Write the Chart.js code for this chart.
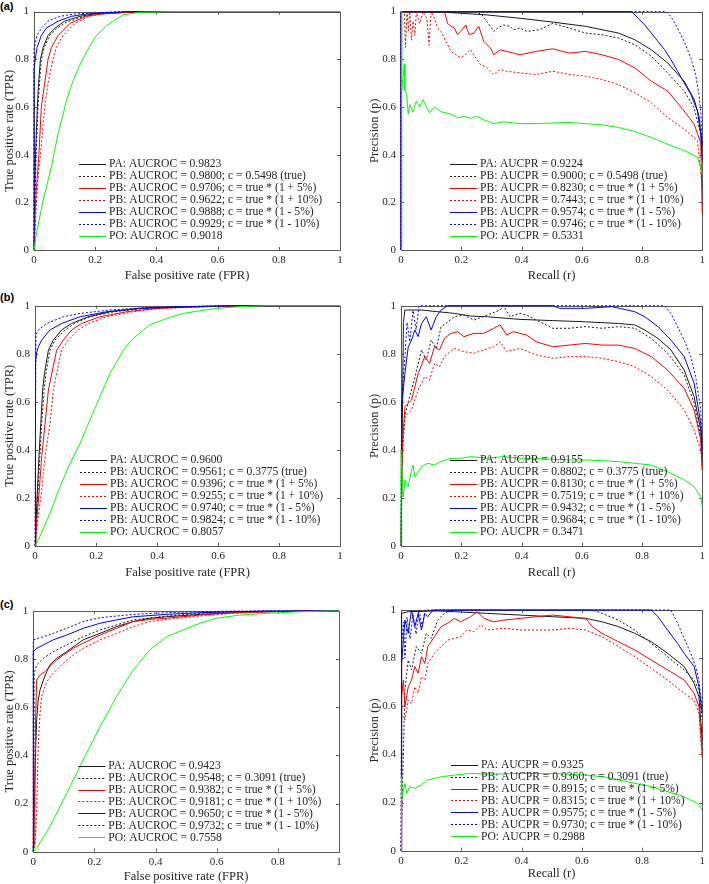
<!DOCTYPE html>
<html><head><meta charset="utf-8">
<script src="https://cdn.jsdelivr.net/npm/chart.js@4.4.0/dist/chart.umd.min.js"></script>
<style>
html,body{margin:0;padding:0;width:709px;height:884px;overflow:hidden;background:#fff}
canvas{position:absolute}
.lbl{position:absolute;left:0;font-family:"Liberation Sans",Arial,sans-serif;font-weight:bold;font-size:11px;line-height:12px;color:#000}
</style></head><body>
<div class="lbl" style="top:0px">(a)</div>
<div class="lbl" style="top:291px">(b)</div>
<div class="lbl" style="top:598px">(c)</div>
<canvas id="aL"></canvas><canvas id="aR"></canvas>
<canvas id="bL"></canvas><canvas id="bR"></canvas>
<canvas id="cL"></canvas><canvas id="cR"></canvas>
<script>
// ---------- tick labels ----------
const TICK_VALUES = [0, 0.2, 0.4, 0.6, 0.8, 1];
const TICK_LABELS = ['0', '0.2', '0.4', '0.6', '0.8', '1'];

// ---------- axis titles ----------
const ROC_X_TITLE = 'False positive rate (FPR)';
const ROC_Y_TITLE = 'True positive rate (TPR)';
const PR_X_TITLE = 'Recall (r)';
const PR_Y_TITLE = 'Precision (p)';

// ---------- legend labels ----------
const A_ROC_LABELS = ['PA: AUCROC = 0.9823','PB: AUCROC = 0.9800; c = 0.5498 (true)','PB: AUCROC = 0.9706; c = true * (1 + 5%)','PB: AUCROC = 0.9622; c = true * (1 + 10%)','PB: AUCROC = 0.9888; c = true * (1 - 5%)','PB: AUCROC = 0.9929; c = true * (1 - 10%)','PO: AUCROC = 0.9018'];
const A_PR_LABELS = ['PA: AUCPR = 0.9224','PB: AUCPR = 0.9000; c = 0.5498 (true)','PB: AUCPR = 0.8230; c = true * (1 + 5%)','PB: AUCPR = 0.7443; c = true * (1 + 10%)','PB: AUCPR = 0.9574; c = true * (1 - 5%)','PB: AUCPR = 0.9746; c = true * (1 - 10%)','PO: AUCPR = 0.5331'];
const B_ROC_LABELS = ['PA: AUCROC = 0.9600','PB: AUCROC = 0.9561; c = 0.3775 (true)','PB: AUCROC = 0.9396; c = true * (1 + 5%)','PB: AUCROC = 0.9255; c = true * (1 + 10%)','PB: AUCROC = 0.9740; c = true * (1 - 5%)','PB: AUCROC = 0.9824; c = true * (1 - 10%)','PO: AUCROC = 0.8057'];
const B_PR_LABELS = ['PA: AUCPR = 0.9155','PB: AUCPR = 0.8802; c = 0.3775 (true)','PB: AUCPR = 0.8130; c = true * (1 + 5%)','PB: AUCPR = 0.7519; c = true * (1 + 10%)','PB: AUCPR = 0.9432; c = true * (1 - 5%)','PB: AUCPR = 0.9684; c = true * (1 - 10%)','PO: AUCPR = 0.3471'];
const C_ROC_LABELS = ['PA: AUCROC = 0.9423','PB: AUCROC = 0.9548; c = 0.3091 (true)','PB: AUCROC = 0.9382; c = true * (1 + 5%)','PB: AUCROC = 0.9181; c = true * (1 + 10%)','PB: AUCROC = 0.9650; c = true * (1 - 5%)','PB: AUCROC = 0.9732; c = true * (1 - 10%)','PO: AUCROC = 0.7558'];
const C_PR_LABELS = ['PA: AUCPR = 0.9325','PB: AUCPR = 0.9360; c = 0.3091 (true)','PB: AUCPR = 0.8915; c = true * (1 + 5%)','PB: AUCPR = 0.8315; c = true * (1 + 10%)','PB: AUCPR = 0.9575; c = true * (1 - 5%)','PB: AUCPR = 0.9730; c = true * (1 - 10%)','PO: AUCPR = 0.2988'];

// ---------- (a) ROC ----------
const A_ROC_PA  = [[0,0],[0.002,0.2],[0.005,0.4],[0.011,0.6],[0.015,0.7],[0.021,0.8],[0.03,0.85],[0.046,0.9],[0.068,0.93],[0.1,0.96],[0.15,0.98],[0.193,0.99],[0.35,1],[1,1]];
const A_ROC_PBT = [[0,0],[0.003,0.2],[0.007,0.4],[0.013,0.6],[0.018,0.7],[0.024,0.8],[0.034,0.85],[0.051,0.9],[0.075,0.93],[0.105,0.955],[0.16,0.978],[0.21,0.99],[0.36,1],[1,1]];
const A_ROC_R5  = [[0,0],[0.005,0.2],[0.016,0.4],[0.024,0.6],[0.035,0.7],[0.046,0.8],[0.057,0.85],[0.079,0.9],[0.117,0.95],[0.17,0.98],[0.215,0.99],[0.33,1],[1,1]];
const A_ROC_R10 = [[0,0],[0.008,0.2],[0.013,0.3],[0.021,0.4],[0.035,0.6],[0.046,0.7],[0.062,0.8],[0.073,0.85],[0.095,0.9],[0.133,0.95],[0.18,0.98],[0.225,0.99],[0.35,1],[1,1]];
const A_ROC_B5  = [[0,0],[0,0.757],[0.004,0.8],[0.01,0.85],[0.024,0.9],[0.04,0.93],[0.079,0.96],[0.122,0.98],[0.171,0.99],[0.3,1],[1,1]];
const A_ROC_B10 = [[0,0],[0,0.84],[0.003,0.86],[0.01,0.9],[0.024,0.93],[0.046,0.96],[0.084,0.98],[0.133,0.99],[0.28,1],[1,1]];
const A_ROC_PO  = [[0,0],[0.008,0.07],[0.03,0.21],[0.04,0.26],[0.057,0.35],[0.079,0.49],[0.106,0.625],[0.122,0.69],[0.144,0.76],[0.171,0.83],[0.204,0.9],[0.237,0.94],[0.29,0.986],[0.345,0.997],[0.45,1],[1,1]];

// ---------- (a) PR ----------
const A_PR_PA  = [[0,0],[0,1],[0.15,0.997],[0.286,0.986],[0.395,0.972],[0.504,0.956],[0.613,0.938],[0.722,0.91],[0.776,0.882],[0.831,0.84],[0.885,0.785],[0.94,0.708],[0.973,0.632],[0.989,0.563],[1,0.444]];
const A_PR_PBT = [[0,0],[0,1],[0.25,1],[0.269,0.986],[0.29,0.95],[0.308,0.917],[0.32,0.93],[0.34,0.944],[0.362,0.938],[0.373,0.924],[0.395,0.931],[0.417,0.917],[0.46,0.924],[0.504,0.951],[0.558,0.931],[0.613,0.91],[0.667,0.903],[0.722,0.889],[0.776,0.861],[0.831,0.813],[0.885,0.743],[0.94,0.667],[0.973,0.597],[0.995,0.486],[1,0.431]];
const A_PR_R5  = [[0,0],[0,1],[0.144,1],[0.155,0.95],[0.16,0.944],[0.177,0.931],[0.188,0.903],[0.198,0.917],[0.215,0.944],[0.226,0.903],[0.242,0.91],[0.258,0.938],[0.275,0.875],[0.297,0.847],[0.308,0.819],[0.329,0.84],[0.351,0.833],[0.373,0.826],[0.395,0.819],[0.449,0.833],[0.504,0.844],[0.558,0.826],[0.613,0.833],[0.667,0.819],[0.722,0.799],[0.776,0.764],[0.831,0.708],[0.885,0.667],[0.94,0.583],[0.973,0.528],[0.995,0.45],[1,0.15]];
const A_PR_R10 = [[0,0],[0,1],[0.011,1],[0.015,0.85],[0.02,1],[0.025,0.92],[0.029,1],[0.035,0.88],[0.04,0.96],[0.046,0.9],[0.051,1],[0.062,0.95],[0.073,1],[0.086,0.97],[0.093,0.86],[0.1,1],[0.111,0.97],[0.122,0.93],[0.133,0.917],[0.149,0.875],[0.166,0.833],[0.182,0.819],[0.198,0.806],[0.215,0.82],[0.231,0.84],[0.248,0.806],[0.264,0.778],[0.286,0.764],[0.308,0.736],[0.329,0.757],[0.351,0.75],[0.395,0.743],[0.449,0.736],[0.504,0.75],[0.558,0.736],[0.613,0.729],[0.667,0.715],[0.722,0.694],[0.776,0.66],[0.831,0.618],[0.885,0.556],[0.94,0.507],[0.984,0.458],[1,0.264]];
const A_PR_B5  = [[0,0],[0,1],[0.766,1],[0.787,0.972],[0.809,0.944],[0.831,0.91],[0.853,0.875],[0.875,0.84],[0.896,0.799],[0.918,0.75],[0.94,0.701],[0.962,0.653],[0.984,0.583],[0.995,0.486],[1,0.375]];
const A_PR_B10 = [[0,0],[0,1],[0.88,1],[0.896,0.979],[0.918,0.931],[0.94,0.875],[0.962,0.806],[0.978,0.736],[0.989,0.653],[0.995,0.583],[1,0.444]];
const A_PR_PO  = [[0,0],[0.002,1],[0.003,0.67],[0.011,0.78],[0.013,0.67],[0.019,0.65],[0.024,0.57],[0.029,0.61],[0.04,0.58],[0.051,0.625],[0.062,0.6],[0.073,0.63],[0.084,0.6],[0.095,0.575],[0.111,0.6],[0.133,0.58],[0.166,0.57],[0.188,0.555],[0.209,0.56],[0.231,0.553],[0.253,0.56],[0.275,0.546],[0.308,0.53],[0.34,0.538],[0.395,0.53],[0.449,0.53],[0.504,0.533],[0.558,0.535],[0.613,0.53],[0.667,0.525],[0.722,0.514],[0.776,0.497],[0.831,0.472],[0.885,0.444],[0.94,0.417],[0.984,0.39],[1,0.32]];

// ---------- (b) ROC ----------
const B_ROC_PA  = [[0,0],[0.003,0.094],[0.008,0.233],[0.013,0.372],[0.019,0.51],[0.025,0.649],[0.031,0.718],[0.044,0.815],[0.06,0.857],[0.087,0.899],[0.12,0.926],[0.175,0.954],[0.246,0.975],[0.344,0.989],[0.486,0.996],[0.7,1],[1,1]];
const B_ROC_PBT = [[0,0],[0.004,0.094],[0.01,0.233],[0.016,0.372],[0.022,0.51],[0.03,0.649],[0.036,0.718],[0.049,0.815],[0.066,0.857],[0.098,0.899],[0.13,0.926],[0.18,0.954],[0.26,0.975],[0.36,0.989],[0.5,0.996],[0.7,1],[1,1]];
const B_ROC_R5  = [[0,0],[0.005,0.094],[0.014,0.233],[0.022,0.372],[0.033,0.51],[0.044,0.649],[0.055,0.718],[0.071,0.815],[0.093,0.857],[0.12,0.899],[0.153,0.926],[0.213,0.954],[0.301,0.975],[0.399,0.989],[0.55,0.996],[0.7,1],[1,1]];
const B_ROC_R10 = [[0,0],[0.008,0.094],[0.022,0.233],[0.033,0.372],[0.049,0.51],[0.06,0.649],[0.071,0.718],[0.087,0.815],[0.109,0.857],[0.142,0.899],[0.175,0.926],[0.235,0.954],[0.322,0.975],[0.421,0.989],[0.57,0.996],[0.72,1],[1,1]];
const B_ROC_B5  = [[0,0],[0.001,0.094],[0.001,0.51],[0.003,0.76],[0.005,0.802],[0.011,0.829],[0.022,0.857],[0.049,0.899],[0.087,0.926],[0.148,0.954],[0.235,0.975],[0.344,0.989],[0.65,1],[1,1]];
const B_ROC_B10 = [[0,0],[0.001,0.3],[0.002,0.6],[0.003,0.878],[0.011,0.899],[0.038,0.926],[0.093,0.954],[0.148,0.968],[0.246,0.982],[0.377,0.993],[0.6,1],[1,1]];
const B_ROC_PO  = [[0,0],[0.016,0.039],[0.049,0.136],[0.082,0.247],[0.115,0.344],[0.148,0.427],[0.18,0.524],[0.213,0.621],[0.246,0.718],[0.29,0.815],[0.322,0.864],[0.377,0.92],[0.432,0.947],[0.486,0.968],[0.541,0.979],[0.596,0.989],[0.672,0.996],[0.76,1],[1,1]];

// ---------- (b) PR ----------
const B_PR_PA  = [[0,0],[0.008,0.93],[0.013,0.982],[0.068,0.982],[0.122,0.975],[0.177,0.968],[0.231,0.957],[0.286,0.954],[0.395,0.943],[0.504,0.938],[0.613,0.933],[0.722,0.926],[0.776,0.92],[0.809,0.899],[0.853,0.864],[0.896,0.816],[0.94,0.732],[0.973,0.621],[0.995,0.483],[1,0.372]];
const B_PR_PBT = [[0,0],[0.002,0.37],[0.013,0.54],[0.024,0.6],[0.046,0.7],[0.068,0.816],[0.084,0.774],[0.1,0.857],[0.117,0.822],[0.133,0.913],[0.149,0.926],[0.177,0.954],[0.209,0.961],[0.242,0.94],[0.286,0.961],[0.329,0.982],[0.34,1],[0.362,0.954],[0.395,0.968],[0.417,0.961],[0.449,0.94],[0.504,0.906],[0.558,0.906],[0.613,0.913],[0.667,0.906],[0.722,0.913],[0.776,0.906],[0.831,0.864],[0.885,0.802],[0.94,0.712],[0.973,0.594],[0.995,0.455],[1,0.344]];
const B_PR_R5  = [[0,0],[0.004,0.4],[0.013,0.58],[0.035,0.607],[0.057,0.718],[0.079,0.788],[0.095,0.76],[0.111,0.829],[0.128,0.816],[0.144,0.864],[0.166,0.885],[0.188,0.892],[0.209,0.871],[0.242,0.885],[0.275,0.885],[0.308,0.906],[0.329,0.92],[0.351,0.878],[0.373,0.892],[0.395,0.885],[0.417,0.878],[0.449,0.85],[0.504,0.829],[0.558,0.836],[0.613,0.843],[0.667,0.836],[0.722,0.836],[0.776,0.822],[0.831,0.788],[0.885,0.732],[0.94,0.656],[0.973,0.566],[0.995,0.441],[1,0.316]];
const B_PR_R10 = [[0,0],[0.004,0.372],[0.013,0.538],[0.035,0.566],[0.057,0.649],[0.079,0.705],[0.095,0.691],[0.111,0.76],[0.128,0.746],[0.144,0.788],[0.177,0.822],[0.209,0.809],[0.242,0.802],[0.275,0.816],[0.308,0.829],[0.329,0.85],[0.351,0.809],[0.395,0.822],[0.449,0.795],[0.504,0.781],[0.558,0.788],[0.613,0.788],[0.667,0.781],[0.722,0.767],[0.776,0.746],[0.831,0.705],[0.885,0.649],[0.94,0.566],[0.973,0.483],[0.995,0.399],[1,0.316]];
const B_PR_B5  = [[0,0],[0.002,0.58],[0.013,0.718],[0.024,0.829],[0.035,0.857],[0.046,0.899],[0.057,0.871],[0.068,0.926],[0.084,0.954],[0.1,0.899],[0.117,0.954],[0.133,0.982],[0.155,1],[0.504,1],[0.526,0.989],[0.613,0.989],[0.7,0.996],[0.776,0.975],[0.809,0.954],[0.853,0.913],[0.896,0.857],[0.94,0.788],[0.973,0.677],[0.995,0.51],[1,0.399]];
const B_PR_B10 = [[0,0],[0.002,0.607],[0.013,0.788],[0.02,0.93],[0.029,0.85],[0.04,0.98],[0.05,0.9],[0.06,1],[0.875,1],[0.896,0.968],[0.918,0.913],[0.94,0.857],[0.962,0.788],[0.978,0.705],[0.995,0.566],[1,0.427]];
const B_PR_PO  = [[0,0],[0,0.4],[0.004,0.288],[0.008,0.205],[0.013,0.275],[0.024,0.247],[0.035,0.316],[0.04,0.337],[0.046,0.288],[0.068,0.33],[0.089,0.344],[0.111,0.337],[0.133,0.351],[0.166,0.365],[0.198,0.365],[0.231,0.372],[0.286,0.365],[0.34,0.372],[0.395,0.365],[0.449,0.365],[0.504,0.361],[0.558,0.358],[0.613,0.358],[0.667,0.355],[0.722,0.351],[0.776,0.344],[0.831,0.337],[0.885,0.309],[0.94,0.275],[0.973,0.247],[0.995,0.205],[1,0.164]];

// ---------- (c) ROC ----------
const C_ROC_PA  = [[0,0],[0.003,0.16],[0.008,0.436],[0.011,0.547],[0.016,0.63],[0.022,0.672],[0.033,0.713],[0.044,0.748],[0.054,0.776],[0.076,0.803],[0.109,0.831],[0.163,0.88],[0.218,0.907],[0.272,0.935],[0.327,0.956],[0.381,0.97],[0.436,0.976],[0.545,0.986],[0.654,0.993],[0.763,0.997],[0.871,1],[1,1]];
const C_ROC_PBT = [[0,0],[0.002,0.3],[0.003,0.741],[0.011,0.776],[0.033,0.803],[0.065,0.831],[0.109,0.859],[0.163,0.893],[0.218,0.921],[0.272,0.942],[0.327,0.963],[0.436,0.979],[0.545,0.99],[0.654,0.996],[0.763,1],[1,1]];
const C_ROC_R5  = [[0,0],[0.005,0.048],[0.005,0.298],[0.008,0.575],[0.011,0.713],[0.022,0.734],[0.038,0.748],[0.054,0.769],[0.076,0.796],[0.098,0.817],[0.131,0.845],[0.163,0.866],[0.218,0.9],[0.272,0.928],[0.327,0.956],[0.381,0.965],[0.436,0.97],[0.545,0.983],[0.654,0.993],[0.763,0.997],[0.871,1],[1,1]];
const C_ROC_R10 = [[0,0],[0.005,0.021],[0.011,0.159],[0.016,0.436],[0.022,0.575],[0.027,0.644],[0.044,0.706],[0.065,0.741],[0.098,0.783],[0.131,0.817],[0.163,0.845],[0.218,0.88],[0.272,0.907],[0.327,0.935],[0.381,0.956],[0.436,0.965],[0.545,0.979],[0.654,0.99],[0.763,0.996],[0.871,1],[1,1]];
const C_ROC_B5  = [[0,0],[0,0.831],[0.011,0.845],[0.033,0.859],[0.065,0.88],[0.109,0.9],[0.163,0.928],[0.218,0.949],[0.272,0.963],[0.327,0.976],[0.436,0.986],[0.545,0.993],[0.654,0.997],[0.763,1],[1,1]];
const C_ROC_B10 = [[0,0],[0,0.88],[0.033,0.893],[0.065,0.907],[0.109,0.928],[0.163,0.956],[0.218,0.972],[0.272,0.979],[0.327,0.986],[0.436,0.993],[0.545,0.997],[0.654,1],[1,1]];
const C_ROC_PO  = [[0,0],[0.011,0.014],[0.054,0.104],[0.109,0.242],[0.163,0.381],[0.218,0.519],[0.272,0.644],[0.327,0.755],[0.381,0.838],[0.436,0.893],[0.49,0.921],[0.545,0.949],[0.599,0.97],[0.675,0.983],[0.763,0.99],[0.871,0.997],[0.98,1],[1,1]];

// ---------- (c) PR ----------
const C_PR_PA  = [[0,0],[0.002,0.986],[0.024,0.993],[0.122,0.996],[0.177,0.993],[0.286,0.986],[0.395,0.979],[0.504,0.972],[0.613,0.965],[0.667,0.951],[0.722,0.931],[0.776,0.903],[0.831,0.868],[0.885,0.82],[0.94,0.765],[0.973,0.695],[0.989,0.64],[1,0.46]];
const C_PR_PBT = [[0,0],[0.013,0.668],[0.024,0.792],[0.035,0.751],[0.051,0.848],[0.068,0.82],[0.084,0.903],[0.1,0.882],[0.122,0.958],[0.144,0.986],[0.166,1],[0.635,1],[0.667,0.986],[0.722,0.958],[0.776,0.917],[0.831,0.861],[0.885,0.806],[0.94,0.751],[0.973,0.709],[0.989,0.668],[1,0.543]];
const C_PR_R5  = [[0,0],[0.002,0.64],[0.008,0.709],[0.013,0.598],[0.024,0.681],[0.035,0.709],[0.046,0.765],[0.057,0.737],[0.068,0.806],[0.079,0.778],[0.089,0.848],[0.111,0.889],[0.133,0.931],[0.155,0.945],[0.177,0.965],[0.198,0.951],[0.231,0.972],[0.253,0.993],[0.275,0.965],[0.308,0.951],[0.34,0.958],[0.395,0.965],[0.449,0.972],[0.504,0.979],[0.558,0.972],[0.613,0.965],[0.635,0.931],[0.667,0.903],[0.722,0.868],[0.776,0.834],[0.831,0.792],[0.885,0.751],[0.94,0.709],[0.973,0.654],[0.989,0.598],[1,0.404]];
const C_PR_R10 = [[0,0],[0.002,0.571],[0.013,0.543],[0.024,0.626],[0.035,0.612],[0.046,0.681],[0.057,0.654],[0.068,0.723],[0.079,0.709],[0.089,0.778],[0.111,0.82],[0.133,0.848],[0.155,0.875],[0.177,0.882],[0.198,0.889],[0.22,0.917],[0.242,0.91],[0.264,0.938],[0.286,0.917],[0.34,0.924],[0.395,0.917],[0.449,0.917],[0.504,0.917],[0.558,0.924],[0.613,0.917],[0.667,0.889],[0.722,0.848],[0.776,0.806],[0.831,0.758],[0.885,0.709],[0.94,0.654],[0.973,0.626],[0.989,0.571],[1,0.377]];
const C_PR_B5  = [[0,0],[0.002,0.778],[0.013,0.958],[0.024,0.903],[0.035,1],[0.046,0.931],[0.057,0.986],[0.068,0.917],[0.079,0.986],[0.089,0.972],[0.106,1],[0.831,1],[0.853,0.972],[0.885,0.917],[0.918,0.861],[0.94,0.82],[0.973,0.765],[0.989,0.681],[1,0.571]];
const C_PR_B10 = [[0,0],[0.002,0.848],[0.008,0.95],[0.013,0.8],[0.02,0.97],[0.03,0.88],[0.04,0.98],[0.05,0.9],[0.06,1],[0.07,0.93],[0.08,1],[0.896,1],[0.918,0.945],[0.94,0.882],[0.962,0.82],[0.978,0.765],[0.989,0.709],[1,0.598]];
const C_PR_PO  = [[0,0],[0.002,0.307],[0.004,0.224],[0.013,0.28],[0.019,0.238],[0.029,0.266],[0.046,0.259],[0.068,0.273],[0.089,0.294],[0.133,0.307],[0.177,0.314],[0.231,0.321],[0.286,0.318],[0.395,0.321],[0.504,0.321],[0.613,0.314],[0.667,0.307],[0.722,0.294],[0.776,0.28],[0.831,0.266],[0.885,0.245],[0.94,0.224],[0.984,0.197],[1,0.169]];

// ---------- styles (kept apart from data) ----------
const SERIES_STYLE = [
  {color:'#1a1a1a', dash:[]},
  {color:'#1a1a1a', dash:[2,2]},
  {color:'#ff0000', dash:[]},
  {color:'#ff0000', dash:[2,2]},
  {color:'#0000ff', dash:[]},
  {color:'#0000ff', dash:[2,2]},
  {color:'#00ff00', dash:[]}
];
const AXIS_COLOR = '#5a5a5a';
const TEXT_COLOR = '#262626';
const SERIF = '"Liberation Serif", "Times New Roman", serif';

const framePlugin = {
  id: 'matlabFrame',
  beforeDatasetsDraw(chart) {
    const ctx = chart.ctx, a = chart.chartArea;
    const xs = chart.scales.x, ys = chart.scales.y;
    ctx.save();
    ctx.strokeStyle = AXIS_COLOR; ctx.lineWidth = 1;
    ctx.strokeRect(Math.round(a.left)+0.5, Math.round(a.top)+0.5, Math.round(a.right)-Math.round(a.left), Math.round(a.bottom)-Math.round(a.top));
    ctx.beginPath();
    xs.ticks.forEach(t => {
      const px = Math.round(xs.getPixelForValue(t.value)) + 0.5;
      ctx.moveTo(px, a.bottom); ctx.lineTo(px, a.bottom - 3);
      ctx.moveTo(px, a.top); ctx.lineTo(px, a.top + 3);
    });
    ys.ticks.forEach(t => {
      const py = Math.round(ys.getPixelForValue(t.value)) + 0.5;
      ctx.moveTo(a.left, py); ctx.lineTo(a.left + 3, py);
      ctx.moveTo(a.right, py); ctx.lineTo(a.right - 3, py);
    });
    ctx.stroke();
    ctx.restore();
  },
  afterDatasetsDraw(chart, args, opts) {
    const ctx = chart.ctx, a = chart.chartArea;
    const ds = chart.data.datasets;
    ctx.save();
    ctx.font = '11.6px ' + SERIF;
    ctx.textBaseline = 'middle';
    ctx.fillStyle = TEXT_COLOR;
    const x0 = a.left + opts.dx;
    const n = ds.length;
    ds.forEach((d, i) => {
      const y = a.bottom - opts.dyBottom - (n - 1 - i) * 11.95;
      ctx.save();
      ctx.strokeStyle = d.borderColor; ctx.lineWidth = 1;
      ctx.setLineDash(d.borderDash || []);
      ctx.beginPath(); ctx.moveTo(x0, Math.round(y)+0.5); ctx.lineTo(x0 + 27, Math.round(y)+0.5); ctx.stroke();
      ctx.restore();
      ctx.fillText(d.label, x0 + 30, y + 0.5);
    });
    ctx.restore();
  }
};

function makeChart(id, box, area, xTitleC, yTitleC, series, labels, xTitle, yTitle, legendDx) {
  const cv = document.getElementById(id);
  const H = Math.round(xTitleC - box.top + 9.5);
  cv.width = box.width; cv.height = H;
  cv.style.left = box.left + 'px'; cv.style.top = box.top + 'px';
  cv.style.width = box.width + 'px'; cv.style.height = H + 'px';
  const xH = box.top + H - area.bottom;
  const yW = area.left - box.left;
  const titleLH = 15;
  const datasets = series.map((s, i) => ({
    label: labels[i],
    data: s.map(p => ({x: p[0], y: p[1]})),
    borderColor: SERIES_STYLE[i].color,
    borderDash: SERIES_STYLE[i].dash,
    borderWidth: 1,
    pointRadius: 0,
    showLine: true,
    fill: false,
    tension: 0,
    clip: 3,
    order: series.length - 1 - i
  }));
  return new Chart(cv, {
    type: 'scatter',
    data: { datasets },
    plugins: [framePlugin],
    options: {
      responsive: false, animation: false, devicePixelRatio: 1,
      events: [],
      layout: { padding: { left: 0, top: area.top - box.top, right: box.left + box.width - area.right, bottom: 0 } },
      plugins: {
        legend: { display: false }, tooltip: { enabled: false },
        matlabFrame: { dx: legendDx, dyBottom: 14.4 }
      },
      scales: {
        x: {
          type: 'linear', min: 0, max: 1,
          afterBuildTicks: s => { s.ticks = TICK_VALUES.map(v => ({value: v})); },
          afterFit: s => { s.height = xH; },
          grid: { display: false, drawTicks: false },
          border: { display: false },
          ticks: { padding: 4, color: TEXT_COLOR, font: { family: SERIF, size: 11 }, maxRotation: 0,
                   callback: (v, i) => TICK_LABELS[i] },
          title: { display: true, text: xTitle, color: TEXT_COLOR, font: { family: SERIF, size: 12.5 },
                   padding: { top: 0, bottom: box.top + H - xTitleC - titleLH / 2 } }
        },
        y: {
          type: 'linear', min: 0, max: 1,
          afterBuildTicks: s => { s.ticks = TICK_VALUES.map(v => ({value: v})); },
          afterFit: s => { s.width = yW; },
          grid: { display: false, drawTicks: false },
          border: { display: false },
          ticks: { padding: 5, color: TEXT_COLOR, font: { family: SERIF, size: 11 },
                   callback: (v, i) => TICK_LABELS[i] },
          title: { display: true, text: yTitle, color: TEXT_COLOR, font: { family: SERIF, size: 12.5 },
                   padding: { top: yTitleC - box.left - titleLH / 2, bottom: 0 } }
        }
      }
    }
  });
}

makeChart('aL', {left:0, top:0, width:360}, {left:34, top:10, right:340, bottom:250}, 276, 10,
  [A_ROC_PA, A_ROC_PBT, A_ROC_R5, A_ROC_R10, A_ROC_B5, A_ROC_B10, A_ROC_PO], A_ROC_LABELS, ROC_X_TITLE, ROC_Y_TITLE, 45);
makeChart('aR', {left:360, top:0, width:349}, {left:401, top:10, right:707, bottom:250}, 276, 374.3,
  [A_PR_PA, A_PR_PBT, A_PR_R5, A_PR_R10, A_PR_B5, A_PR_B10, A_PR_PO], A_PR_LABELS, PR_X_TITLE, PR_Y_TITLE, 49);
makeChart('bL', {left:0, top:290, width:360}, {left:35, top:305.7, right:340, bottom:546}, 573, 10,
  [B_ROC_PA, B_ROC_PBT, B_ROC_R5, B_ROC_R10, B_ROC_B5, B_ROC_B10, B_ROC_PO], B_ROC_LABELS, ROC_X_TITLE, ROC_Y_TITLE, 45);
makeChart('bR', {left:360, top:290, width:349}, {left:401, top:305.7, right:707, bottom:546}, 572.7, 374.3,
  [B_PR_PA, B_PR_PBT, B_PR_R5, B_PR_R10, B_PR_B5, B_PR_B10, B_PR_PO], B_PR_LABELS, PR_X_TITLE, PR_Y_TITLE, 49);
makeChart('cL', {left:0, top:580, width:360}, {left:33.3, top:611, right:339, bottom:851.7}, 877, 10,
  [C_ROC_PA, C_ROC_PBT, C_ROC_R5, C_ROC_R10, C_ROC_B5, C_ROC_B10, C_ROC_PO], C_ROC_LABELS, ROC_X_TITLE, ROC_Y_TITLE, 45);
makeChart('cR', {left:360, top:580, width:349}, {left:401, top:610, right:707, bottom:850.7}, 873.3, 374.3,
  [C_PR_PA, C_PR_PBT, C_PR_R5, C_PR_R10, C_PR_B5, C_PR_B10, C_PR_PO], C_PR_LABELS, PR_X_TITLE, PR_Y_TITLE, 50);
</script>
</body></html>
